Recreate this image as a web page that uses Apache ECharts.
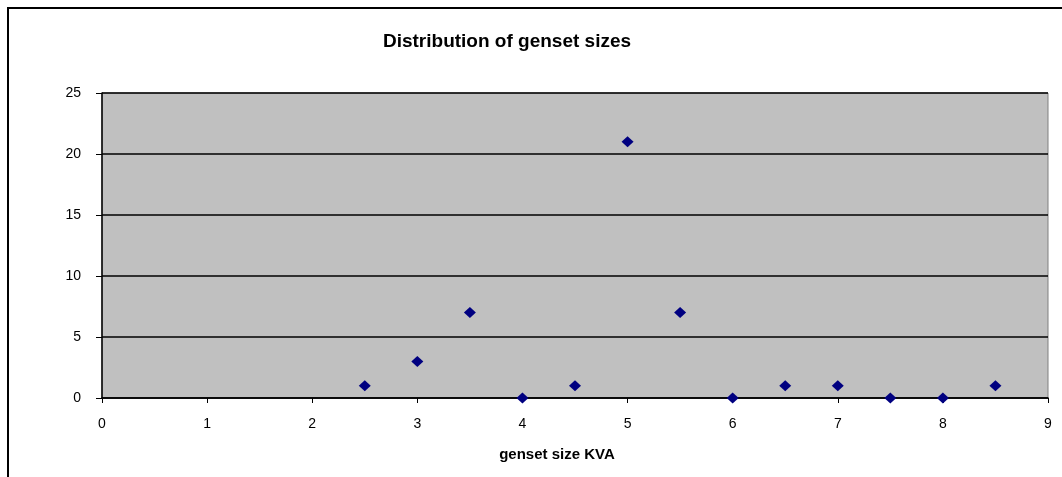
<!DOCTYPE html>
<html>
<head>
<meta charset="utf-8">
<script src="https://cdn.jsdelivr.net/npm/echarts@6/dist/echarts.min.js"></script>
<style>
  html, body { margin:0; padding:0; background:#fff; }
  #chart { width:1062px; height:477px; }
</style>
</head>
<body>
<div id="chart"></div>
<script>
// genset size (KVA) and how many of each
const sizes  = [2.5, 3, 3.5, 4, 4.5, 5, 5.5, 6, 6.5, 7, 7.5, 8, 8.5];
const counts = [1, 3, 7, 0, 1, 21, 7, 0, 1, 1, 0, 0, 1];

const points = sizes.map((s, i) => [s, counts[i]]);

const chart = echarts.init(document.getElementById('chart'), null, { renderer: 'canvas' });

const option = {
  backgroundColor: '#ffffff',
  animation: false,
  title: {
    text: 'Distribution of genset sizes',
    left: 502,
    top: 27,
    textAlign: 'center',
    textStyle: {
      fontFamily: 'Liberation Sans',
      fontSize: 19,
      fontWeight: 'bold',
      color: '#000'
    }
  },
  graphic: [
    {
      type: 'rect',
      shape: { x: 8, y: 8, width: 1080, height: 500 },
      style: { fill: 'none', stroke: '#000', lineWidth: 2 },
      silent: true,
      z: -1
    }
  ],
  grid: {
    left: 102,
    right: 14,
    top: 93,
    bottom: 79,
    show: true,
    backgroundColor: '#C0C0C0',
    borderColor: '#808080',
    borderWidth: 1
  },
  xAxis: {
    type: 'value',
    min: 0,
    max: 9,
    interval: 1,
    name: 'genset size KVA',
    nameLocation: 'middle',
    nameGap: 49,
    nameTextStyle: {
      fontFamily: 'Liberation Sans',
      fontSize: 15,
      fontWeight: 'bold',
      color: '#000',
      padding: [0, 0, 0, -36]
    },
    axisLine: { show: true, onZero: false, lineStyle: { color: '#000', width: 1.5 } },
    axisTick: { show: true, inside: false, length: 5, lineStyle: { color: '#000' } },
    axisLabel: { fontFamily: 'Liberation Sans', fontSize: 14, color: '#000', margin: 19 },
    splitLine: { show: false }
  },
  yAxis: {
    type: 'value',
    min: 0,
    max: 25,
    interval: 5,
    axisLine: { show: true, onZero: false, lineStyle: { color: '#000', width: 1.5 } },
    axisTick: { show: true, inside: false, length: 6, lineStyle: { color: '#000' } },
    axisLabel: { fontFamily: 'Liberation Sans', fontSize: 14, color: '#000', margin: 21 },
    splitLine: { show: true, lineStyle: { color: '#000', width: 1.5 } }
  },
  series: [
    {
      type: 'scatter',
      data: points,
      symbol: 'diamond',
      symbolSize: [12, 11],
      itemStyle: { color: '#000080', opacity: 1 },
      clip: false,
      z: 5
    }
  ]
};

chart.setOption(option);
</script>
</body>
</html>
